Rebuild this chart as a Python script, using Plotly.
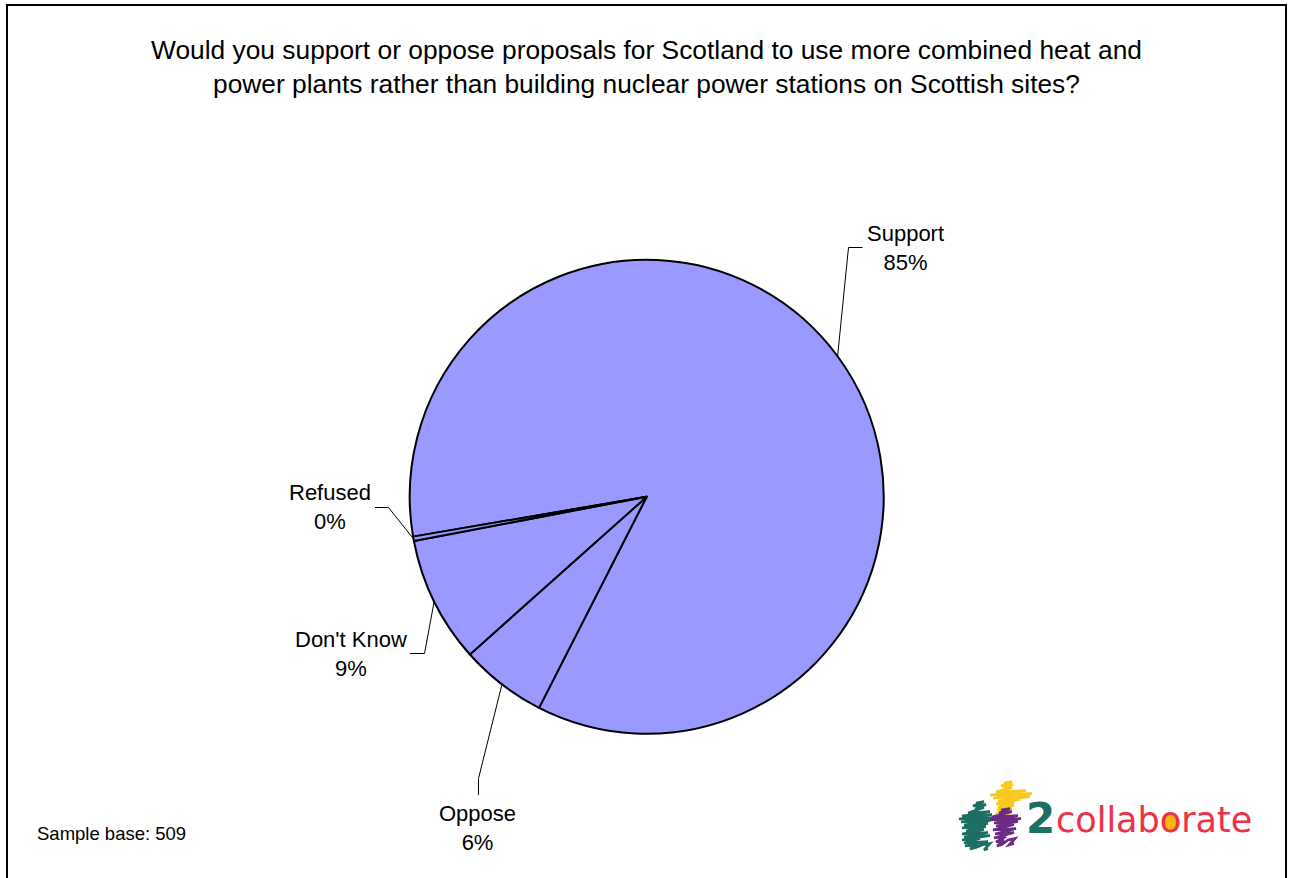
import math
import plotly.graph_objects as go

W, H = 1295, 878

# Survey responses (percent of sample)
categories = ["Support", "Oppose", "Don't Know", "Refused"]
shares = [85.2, 5.9, 8.6, 0.3]
sample_base = 509

title_lines = [
    "Would you support or oppose proposals for Scotland to use more combined heat and",
    "power plants rather than building nuclear power stations on Scottish sites?",
]

PIE_COLOR = "#9999FF"
START_ANGLE = 260.3          # first slice starts here, measured clockwise from 12 o'clock
FONT = "Arial, Liberation Sans, sans-serif"

# pie placement in pixels
CX, CY, R = 646.7, 496.7, 237.0


def px(x):
    return x / W


def py(y):
    return 1 - y / H


# where each data label sits and how its leader line bends (pixels)
label_layout = {
    "Support":    dict(center=(905, 248), elbow=(848.5, 247.5), tail=(862.5, 247.5)),
    "Oppose":     dict(center=(478, 828), elbow=(478.5, 778.5), tail=(478.5, 795.0)),
    "Don't Know": dict(center=(351, 654), elbow=(424.5, 653.5), tail=(410.0, 653.5)),
    "Refused":    dict(center=(330, 507), elbow=(388.5, 507.5), tail=(375.0, 507.5)),
}

fig = go.Figure()
fig.add_trace(go.Pie(
    labels=categories,
    values=shares,
    sort=False,
    direction="clockwise",
    rotation=START_ANGLE - 360,
    marker=dict(colors=[PIE_COLOR] * len(categories), line=dict(color="black", width=2)),
    textinfo="none",
    hoverinfo="label+percent",
    showlegend=False,
    domain=dict(x=[px(CX - R), px(CX + R)], y=[py(CY + R), py(CY - R)]),
))

shapes = []
annotations = []

# leader lines start at the middle of each slice's outer edge
total = sum(shares)
cum = 0.0
for cat, v in zip(categories, shares):
    mid = START_ANGLE + (cum + v / 2) / total * 360.0
    cum += v
    a = math.radians(mid)
    sx, sy = CX + R * math.sin(a), CY - R * math.cos(a)
    lay = label_layout[cat]
    ex, ey = lay["elbow"]
    tx, ty = lay["tail"]
    shapes.append(dict(
        type="path", xref="paper", yref="paper",
        path=f"M {px(sx)},{py(sy)} L {px(ex)},{py(ey)} L {px(tx)},{py(ty)}",
        line=dict(color="black", width=1),
    ))
    cx_, cy_ = lay["center"]
    annotations.append(dict(
        x=px(cx_), y=py(cy_), xref="paper", yref="paper",
        text=f"{cat}<br>{round(v)}%", showarrow=False,
        xanchor="center", yanchor="middle", align="center",
        font=dict(family=FONT, size=22, color="black"),
    ))

# chart title
annotations.append(dict(
    x=px(646.5), y=py(67), xref="paper", yref="paper",
    text="<br>".join(title_lines), showarrow=False,
    xanchor="center", yanchor="middle", align="center",
    font=dict(family=FONT, size=26.35, color="black"),
))

# sample size note
annotations.append(dict(
    x=px(35), y=py(833), xref="paper", yref="paper",
    text=f"Sample base: {sample_base}", showarrow=False,
    xanchor="left", yanchor="middle", align="left",
    font=dict(family=FONT, size=18.5, color="black"),
))

# outer frame
shapes.append(dict(
    type="rect", xref="paper", yref="paper",
    x0=px(7), x1=px(1286), y0=py(5), y1=py(890),
    line=dict(color="black", width=2), fillcolor="rgba(0,0,0,0)",
))

# --- 2collaborate logo ---
def scribble(rows, color, width=2.6):
    pts = []
    for y, xl, xr in rows:
        pts.append((xl, y))
        pts.append((xr, y - 1.5))
    d = "M " + " L ".join(f"{px(x)},{py(y)}" for x, y in pts)
    return dict(type="path", xref="paper", yref="paper", path=d,
                line=dict(color=color, width=width))

teal_rows = [(803, 976, 984), (806, 973, 986), (809, 975, 984), (813, 968, 990),
             (816, 962, 992), (819, 959, 994), (822, 961, 990), (825, 964, 988),
             (828, 962, 986), (831, 966, 984), (834, 962, 988), (837, 964, 990),
             (840, 962, 980), (843, 964, 988), (846, 965, 978), (849, 970, 976),
             (845, 982, 990), (850, 984, 988)]
yellow_rows = [(783, 1004, 1012), (786, 1001, 1013), (789, 1003, 1012), (792, 996, 1026),
               (795, 990, 1032), (798, 993, 1030), (801, 998, 1020), (804, 996, 1014),
               (807, 998, 1014), (810, 997, 1012), (814, 996, 1010), (818, 998, 1008),
               (822, 996, 1006), (826, 998, 1004), (830, 996, 1002)]
purple_rows = [(810, 1001, 1010), (813, 999, 1012), (817, 992, 1018), (820, 990, 1021),
               (823, 994, 1018), (826, 996, 1014), (830, 993, 1016), (834, 995, 1014),
               (838, 994, 1006), (842, 996, 1004), (846, 997, 1002), (840, 1008, 1015),
               (845, 1009, 1014)]
shapes.append(scribble(teal_rows, "#1d6e63"))
shapes.append(scribble(yellow_rows, "#f7c81e"))
shapes.append(scribble(purple_rows, "#6b2b86"))

# filled "o" in collaborate
shapes.append(dict(
    type="circle", xref="paper", yref="paper", layer="below",
    x0=px(1162), x1=px(1180), y0=py(814), y1=py(832),
    fillcolor="#f7b90f", line=dict(width=0),
))

annotations.append(dict(
    x=px(1024), y=py(818), xref="paper", yref="paper",
    text="<b>2</b>", showarrow=False, xanchor="left", yanchor="middle",
    font=dict(family="DejaVu Sans, sans-serif", size=42, color="#1d6e63"),
))
annotations.append(dict(
    x=px(1054), y=py(820), xref="paper", yref="paper",
    text="collaborate", showarrow=False, xanchor="left", yanchor="middle",
    font=dict(family="DejaVu Sans, sans-serif", size=35, color="#ee3048"),
))

fig.update_layout(
    width=W, height=H, autosize=False,
    margin=dict(l=0, r=0, t=0, b=0),
    paper_bgcolor="white", plot_bgcolor="white",
    shapes=shapes, annotations=annotations,
)

fig.write_html("out.html")
